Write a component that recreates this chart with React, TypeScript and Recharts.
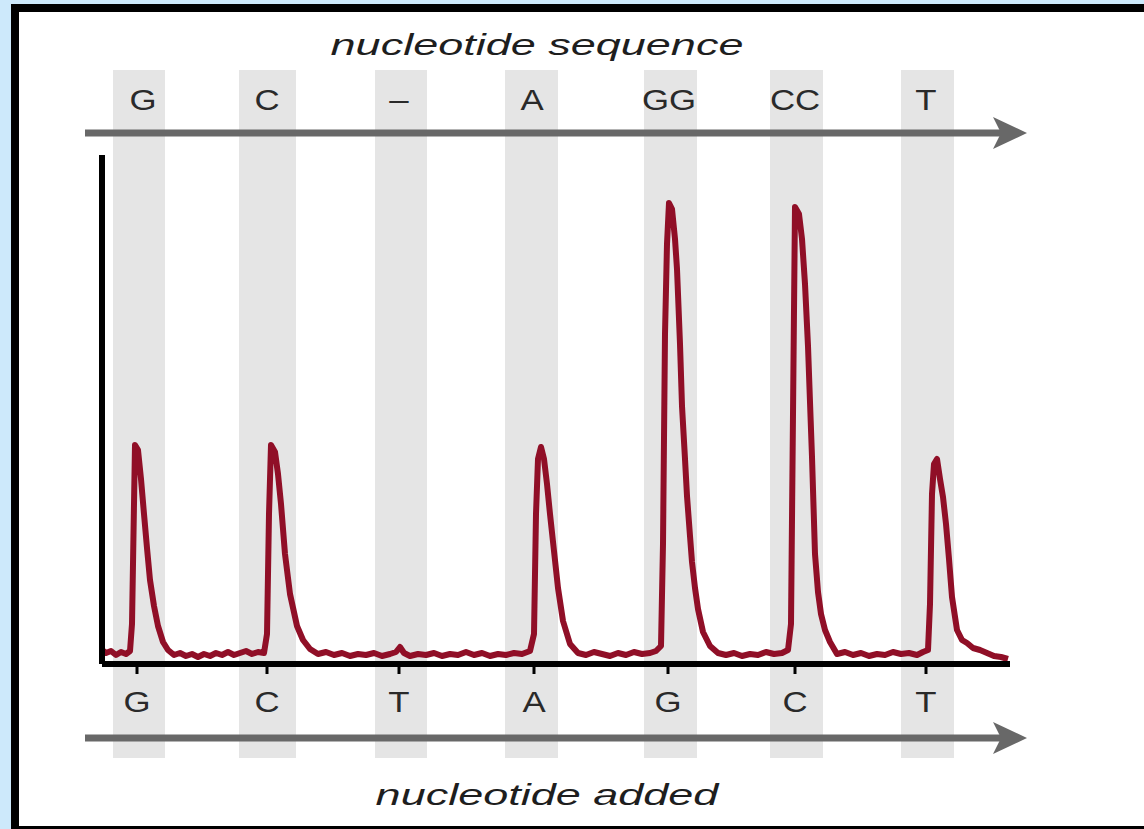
import { ComposedChart, Line, XAxis, YAxis, ReferenceArea, ReferenceLine } from 'recharts';

// nucleotide dispensed (bottom axis) and read sequence (top axis)
const addedLabels = ['G', 'C', 'T', 'A', 'G', 'C', 'T'];
const addedTimes = [35, 165, 297, 432, 566, 693, 824];
const sequenceLabels = ['G', 'C', '–', 'A', 'GG', 'CC', 'T'];
const sequenceTimes = [41, 165, 297, 430, 567, 693, 824];

// shaded dispensing windows
const bandStart = [11, 137, 273, 403, 542, 668, 799];
const bandEnd = [63, 194, 325, 456, 595, 721, 852];

// light signal trace: [time, signal]
const trace: [number, number][] = [
  [0, 14], [4, 11], [9, 13], [14, 9], [19, 12], [24, 10], [28, 13], [30, 40], [32, 160], [33, 219],
  [36, 214], [39, 185], [42, 150], [45, 116], [48, 84], [52, 58], [56, 38], [61, 22], [66, 14], [72, 9],
  [78, 11], [84, 8], [90, 10], [96, 7], [102, 10], [108, 8], [114, 11], [120, 9], [126, 12], [132, 9],
  [138, 11], [144, 13], [150, 10], [156, 12], [162, 11], [165, 30], [167, 150], [169, 219], [173, 212], [176, 190],
  [179, 160], [183, 110], [188, 70], [195, 38], [201, 24], [208, 15], [216, 10], [224, 12], [232, 9], [240, 11],
  [248, 8], [256, 10], [264, 9], [272, 11], [280, 8], [288, 10], [294, 12], [298, 17], [302, 11], [308, 8],
  [316, 10], [324, 9], [332, 11], [340, 8], [348, 10], [356, 9], [364, 12], [372, 9], [380, 11], [388, 8],
  [396, 10], [404, 9], [412, 11], [420, 10], [428, 13], [432, 30], [434, 150], [436, 205], [439, 217], [442, 205],
  [445, 180], [448, 150], [452, 113], [456, 76], [461, 43], [468, 20], [476, 11], [484, 9], [492, 12], [500, 10],
  [508, 8], [516, 11], [524, 9], [532, 12], [540, 10], [548, 11], [554, 13], [559, 18], [561, 120], [563, 330],
  [565, 420], [567, 461], [570, 455], [573, 425], [575, 395], [578, 320], [580, 258], [583, 205], [585, 168], [588, 128],
  [590, 102], [593, 76], [596, 55], [601, 32], [608, 18], [616, 11], [624, 9], [632, 11], [640, 8], [648, 10],
  [656, 9], [664, 12], [672, 10], [680, 11], [686, 14], [689, 40], [691, 250], [693, 457], [697, 450], [700, 425],
  [703, 380], [706, 318], [708, 262], [710, 207], [713, 110], [716, 72], [719, 50], [723, 34], [728, 22], [735, 10],
  [743, 12], [751, 9], [759, 11], [767, 8], [775, 10], [783, 9], [791, 12], [799, 10], [807, 11], [815, 9],
  [821, 12], [826, 14], [828, 60], [830, 170], [832, 200], [835, 205], [838, 185], [841, 167], [844, 140], [847, 105],
  [850, 67], [855, 34], [860, 24], [865, 21], [871, 16], [878, 14], [885, 11], [892, 8], [899, 7], [906, 5],
];

const data = trace.map(([x, y]) => ({ x, y }));

const FONT = '"Liberation Sans", Arial, sans-serif';
const TRACE = '#900f27';
const ARROW = '#686868';

function ArrowShape(props: any) {
  const { x1, y1, x2, y2 } = props;
  const head = 34;
  const half = 16;
  return (
    <g>
      <line x1={x1} y1={y1} x2={x2 - head + 8} y2={y2} stroke={ARROW} strokeWidth={7} />
      <polygon
        points={`${x2 - head},${y2 - half} ${x2},${y2} ${x2 - head},${y2 + half} ${x2 - head + 8},${y2}`}
        fill={ARROW}
      />
    </g>
  );
}

function LetterTick(props: any) {
  const { x, y, payload, labels, times, shift } = props;
  const label = labels[times.indexOf(payload.value)];
  return (
    <text
      transform={`translate(${x},${y + shift}) scale(1.2,1)`}
      textAnchor="middle"
      fontSize={29}
      fontFamily={FONT}
      fill="#2a2a2a"
    >
      {label}
    </text>
  );
}

const titleStyle: React.CSSProperties = {
  position: 'absolute',
  width: 600,
  textAlign: 'center',
  fontFamily: FONT,
  fontStyle: 'italic',
  fontSize: 30,
  lineHeight: '30px',
  color: '#1e1e1e',
  transform: 'scaleX(1.5)',
};

export default function App() {
  return (
    <div
      style={{
        position: 'absolute',
        left: 0,
        top: 0,
        width: 1144,
        height: 829,
        background: '#cde9fb',
        overflow: 'hidden',
      }}
    >
      <div
        style={{
          position: 'absolute',
          left: 11,
          top: 4,
          width: 1140,
          height: 825,
          boxSizing: 'border-box',
          background: '#fff',
          borderTop: '8px solid #000',
          borderLeft: '8px solid #000',
          borderBottom: '3px solid #000',
        }}
      />
      <div style={{ position: 'absolute', left: 0, top: 0 }}>
        <ComposedChart
          width={1144}
          height={829}
          data={data}
          margin={{ top: 95, right: 134, bottom: 105, left: 42 }}
        >
          <XAxis
            xAxisId="seq"
            orientation="top"
            dataKey="x"
            type="number"
            domain={[0, 908]}
            ticks={sequenceTimes}
            interval={0}
            height={60}
            axisLine={false}
            tickLine={false}
            tickSize={0}
            tickMargin={45}
            tick={<LetterTick labels={sequenceLabels} times={sequenceTimes} shift={0} />}
          />
          <XAxis
            xAxisId="added"
            dataKey="x"
            type="number"
            domain={[0, 908]}
            ticks={addedTimes}
            interval={0}
            height={60}
            axisLine={{ stroke: '#000', strokeWidth: 6 }}
            tickLine={{ stroke: '#000', strokeWidth: 3 }}
            tickSize={10}
            tickMargin={17}
            tick={<LetterTick labels={addedLabels} times={addedTimes} shift={21} />}
          />
          <YAxis
            type="number"
            domain={[0, 509]}
            width={60}
            ticks={[]}
            tick={false}
            tickLine={false}
            axisLine={{ stroke: '#000', strokeWidth: 6 }}
          />
          {bandStart.map((s, i) => (
            <ReferenceArea
              key={i}
              xAxisId="added"
              x1={s}
              x2={bandEnd[i]}
              y1={-94}
              y2={594}
              fill="#e5e5e5"
              fillOpacity={1}
              stroke="none"
              ifOverflow="visible"
            />
          ))}
          <ReferenceLine
            xAxisId="added"
            segment={[{ x: -17, y: 531 }, { x: 925, y: 531 }]}
            ifOverflow="visible"
            shape={<ArrowShape />}
          />
          <ReferenceLine
            xAxisId="added"
            segment={[{ x: -17, y: -74 }, { x: 925, y: -74 }]}
            ifOverflow="visible"
            shape={<ArrowShape />}
          />
          <Line
            xAxisId="added"
            dataKey="y"
            type="linear"
            stroke={TRACE}
            strokeWidth={6}
            strokeLinejoin="round"
            dot={false}
            activeDot={false}
            isAnimationActive={false}
          />
        </ComposedChart>
      </div>
      <div style={{ ...titleStyle, left: 237, top: 30 }}>nucleotide sequence</div>
      <div style={{ ...titleStyle, left: 247, top: 780 }}>nucleotide added</div>
    </div>
  );
}
